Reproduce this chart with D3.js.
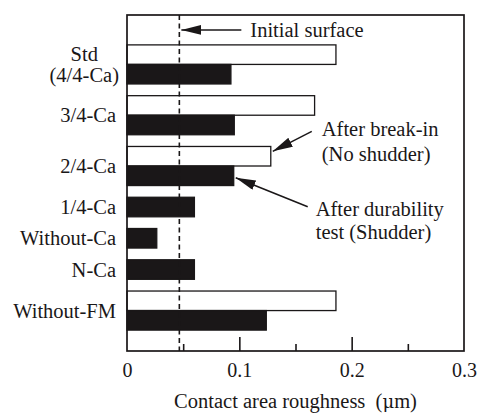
<!DOCTYPE html>
<html>
<head>
<meta charset="utf-8">
<script src="https://cdn.jsdelivr.net/npm/d3@7"></script>
<style>
  body { margin: 0; background: #fff; }
  svg text { font-family: "Liberation Serif", "Times New Roman", serif; fill: #1a1718; }
</style>
</head>
<body>
<div id="chart"></div>
<script>
"use strict";

// data (contact area roughness, um)
var categories = ["Std\n(4/4-Ca)", "3/4-Ca", "2/4-Ca", "1/4-Ca", "Without-Ca", "N-Ca", "Without-FM"];
var breakIn    = [0.186, 0.167, 0.128, null, null, null, 0.186];   // white bars
var durability = [0.0925, 0.0955, 0.095, 0.060, 0.0265, 0.060, 0.124]; // black bars
var initialSurface = 0.0466;
var xTickLabels = [0, 0.1, 0.2, 0.3];
var xMajorTicks = [0.1, 0.2];
var xMinorTicks = [0.05, 0.15, 0.25];

var W = 479, H = 417;
var margin = {top: 15, right: 15, bottom: 66, left: 127};
var ink = "#1a1718";
var fontSize = 20.5;

var svg = d3.select("#chart").append("svg")
    .attr("width", W).attr("height", H);

var x = d3.scaleLinear()
    .domain([0, 0.3])
    .range([margin.left, W - margin.right]);

// vertical layout in "bar units": each bar = 1, gap between groups, top/bottom pads
var gap = 0.6, topPad = 1.53, bottomPad = 1.07;
var bars = [], groups = [];
var pos = topPad;
categories.forEach(function(c, i) {
  var start = pos;
  if (breakIn[i] != null) { bars.push({cat: i, kind: "break", value: breakIn[i], u: pos}); pos += 1; }
  bars.push({cat: i, kind: "dur", value: durability[i], u: pos}); pos += 1;
  groups.push({label: c, start: start, end: pos});
  pos += gap;
});
var totalUnits = pos - gap + bottomPad;

var y = d3.scaleLinear()
    .domain([0, totalUnits])
    .range([margin.top, H - margin.bottom]);

// bars
svg.append("g").selectAll("rect")
    .data(bars)
    .enter()
    .append("rect")
    .attr("x", x(0))
    .attr("y", function(d) { return y(d.u); })
    .attr("width", function(d) { return x(d.value) - x(0); })
    .attr("height", function(d) { return y(d.u + 1) - y(d.u); })
    .attr("fill", function(d) { return d.kind == "break" ? "#fff" : ink; })
    .attr("stroke", ink)
    .attr("stroke-width", 1.3);

// initial surface dashed line
svg.append("line")
    .attr("x1", x(initialSurface)).attr("x2", x(initialSurface))
    .attr("y1", y(0)).attr("y2", y(totalUnits))
    .attr("stroke", ink)
    .attr("stroke-width", 1.6)
    .attr("stroke-dasharray", "5,3.5");

// frame
svg.append("rect")
    .attr("x", x(0)).attr("y", y(0))
    .attr("width", x(0.3) - x(0))
    .attr("height", y(totalUnits) - y(0))
    .attr("fill", "none")
    .attr("stroke", ink)
    .attr("stroke-width", 1.7);

// x axis ticks (inward) and labels
var gx = svg.append("g").attr("transform", "translate(0," + y(totalUnits) + ")");
gx.append("g").call(d3.axisBottom(x).tickValues(xMajorTicks).tickSize(-14).tickFormat(""));
gx.append("g").call(d3.axisBottom(x).tickValues(xMinorTicks).tickSize(-7).tickFormat(""));
gx.append("g").call(d3.axisBottom(x).tickValues(xTickLabels).tickSize(0).tickPadding(12)
    .tickFormat(function(d) { return d === 0 ? "0" : d3.format(".1f")(d); }));
gx.selectAll(".domain").remove();
gx.selectAll(".tick line").attr("stroke", ink).attr("stroke-width", 1.6);
gx.selectAll(".tick text")
    .style("font-family", "'Liberation Serif', serif")
    .style("font-size", "20px")
    .attr("fill", ink);

// axis title
var title = svg.append("text")
    .attr("x", (x(0) + x(0.3)) / 2)
    .attr("y", 408)
    .attr("text-anchor", "middle")
    .style("font-size", fontSize + "px");
title.append("tspan").text("Contact area roughness\u00a0\u00a0(");
title.append("tspan").style("font-family", "'DejaVu Serif', serif").style("font-size", "18px").text("\u03bc");
title.append("tspan").text("m)");

// category labels
var labelRight = 116;
groups.forEach(function(g) {
  var lines = g.label.split("\n");
  var cy = y((g.start + g.end) / 2);
  var t = svg.append("text")
      .style("font-size", fontSize + "px")
      .attr("text-anchor", lines.length > 1 ? "middle" : "end");
  var lh = 20.5;
  lines.forEach(function(l, k) {
    t.append("tspan")
        .attr("x", labelRight)
        .attr("y", cy + 7 + (k - (lines.length - 1) / 2) * lh)
        .text(l);
  });
  if (lines.length > 1) {
    var wmax = d3.max(t.selectAll("tspan").nodes(), function(n) { return n.getComputedTextLength(); });
    t.selectAll("tspan").attr("x", labelRight + 3 - wmax / 2);
  }
});

// arrow heads
svg.append("defs").append("marker")
    .attr("id", "head")
    .attr("viewBox", "0 -5 20 10")
    .attr("refX", 20).attr("refY", 0)
    .attr("markerWidth", 20).attr("markerHeight", 10)
    .attr("markerUnits", "userSpaceOnUse")
    .attr("orient", "auto")
    .append("path")
    .attr("d", "M0,-5L20,0L0,5Z")
    .attr("fill", ink);

function arrow(x1, y1, x2, y2) {
  svg.append("line")
      .attr("x1", x1).attr("y1", y1).attr("x2", x2).attr("y2", y2)
      .attr("stroke", ink).attr("stroke-width", 1.5)
      .attr("marker-end", "url(#head)");
}
function note(xx, yy, lines, lh) {
  var t = svg.append("text").style("font-size", fontSize + "px");
  lines.forEach(function(l, k) {
    t.append("tspan").attr("x", xx).attr("y", yy + k * lh).text(l);
  });
}

// "Initial surface"
var yInit = y(topPad / 2);
arrow(x(initialSurface) + 62, yInit, x(initialSurface) + 2, yInit);
note(x(initialSurface) + 71, yInit + 7, ["Initial surface"], 0);

// break-in note points to the 2/4-Ca white bar
var bWhite = bars.filter(function(b) { return b.cat == 2 && b.kind == "break"; })[0];
var bBlack = bars.filter(function(b) { return b.cat == 2 && b.kind == "dur"; })[0];
var tipW = [x(bWhite.value) + 2, y(bWhite.u + 0.25)];
arrow(tipW[0] + 39, tipW[1] - 20, tipW[0], tipW[1]);
note(tipW[0] + 49, tipW[1] - 15, ["After break-in", "(No shudder)"], 25);

var tipB = [x(bBlack.value) + 2, y(bBlack.u + 0.6)];
arrow(tipB[0] + 72, tipB[1] + 29, tipB[0], tipB[1]);
note(tipB[0] + 80, tipB[1] + 38, ["After durability", "test (Shudder)"], 23);
</script>
</body>
</html>
